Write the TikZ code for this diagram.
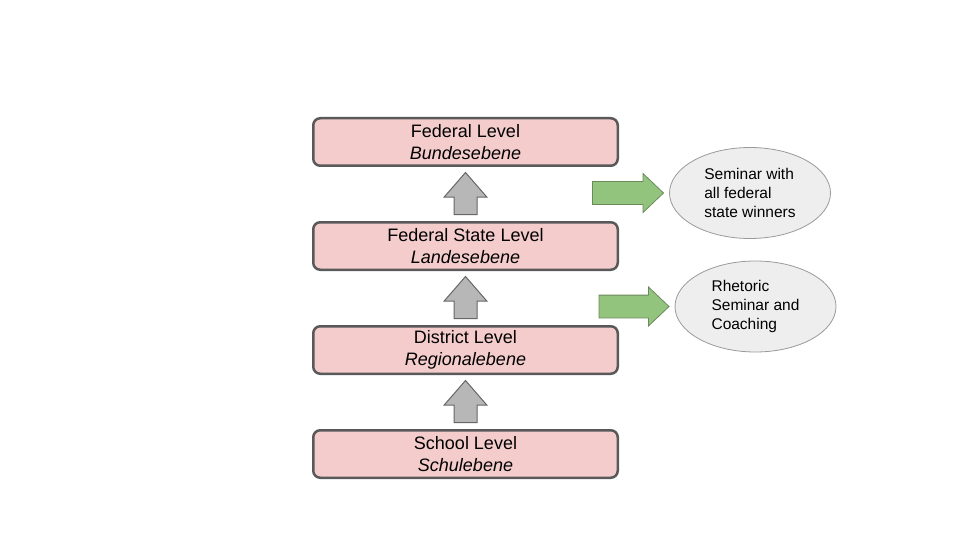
\documentclass[tikz,border=0pt]{standalone}
\usepackage{fontspec}
\setmainfont{Liberation Sans}
\usetikzlibrary{calc,positioning,shapes.geometric,shapes.arrows}

\definecolor{levelfill}{HTML}{F4CCCC}
\definecolor{leveldraw}{HTML}{595959}
\definecolor{upfill}{HTML}{B7B7B7}
\definecolor{updraw}{HTML}{666666}
\definecolor{gofill}{HTML}{93C47D}
\definecolor{godraw}{HTML}{6A8A5C}
\definecolor{seminarfill}{HTML}{EEEEEE}
\definecolor{seminardraw}{HTML}{9A9A9A}

\tikzset{
  levelbox/.style={rectangle,rounded corners=7pt,draw=leveldraw,line width=2.5pt,
    fill=levelfill,minimum width=304.5pt,minimum height=47.5pt,inner sep=0pt,
    align=center,font=\fontsize{18}{22}\selectfont},
  uparrow/.style={single arrow,rotate=90,draw=updraw,fill=upfill,line width=1pt,
    inner xsep=0pt,inner ysep=11pt,text height=0pt,text depth=0pt,
    single arrow head extend=10pt,single arrow tip angle=82,minimum height=42pt},
  goarrow/.style={single arrow,draw=godraw,fill=gofill,line width=0.8pt,
    inner xsep=0pt,inner ysep=11pt,text height=0pt,text depth=0pt,
    single arrow head extend=8pt,single arrow tip angle=87,minimum height=71pt},
  seminar/.style={ellipse,draw=seminardraw,fill=seminarfill,line width=0.8pt,
    minimum width=161pt,minimum height=91pt,inner sep=0pt,
    align=left,font=\fontsize{15.5}{19}\selectfont}
}

\begin{document}
\begin{tikzpicture}[x=1pt,y=-1pt]

\useasboundingbox (0,0) rectangle (960,540);

\node (federal) at (465.5, 142) [levelbox] {Federal Level\\\textit{Bundesebene}};
\node (state) at (465.5, 246) [levelbox] {Federal State Level\\\textit{Landesebene}};
\node (district) at (465.5, 350) [levelbox] {District Level\\\textit{Regionalebene}};
\node (school) at (465.5, 454) [levelbox] {School Level\\\textit{Schulebene}};

\node (up1) at ($(school.north)+(0,-6)$) [uparrow,anchor=tail] {};
\node (up2) at ($(district.north)+(0,-6)$) [uparrow,anchor=tail] {};
\node (up3) at ($(state.north)+(0,-6)$) [uparrow,anchor=tail] {};

\node (winners) at (750, 193) [seminar] {Seminar with\\all federal\\state winners};
\node (rhetoric) at (755.5, 306.5) [seminar] {Rhetoric\\Seminar and\\Coaching};

\node (towinners) [goarrow,left=5pt of winners] {};
\node (torhetoric) [goarrow,left=5pt of rhetoric,minimum height=70pt] {};

\end{tikzpicture}
\end{document}
